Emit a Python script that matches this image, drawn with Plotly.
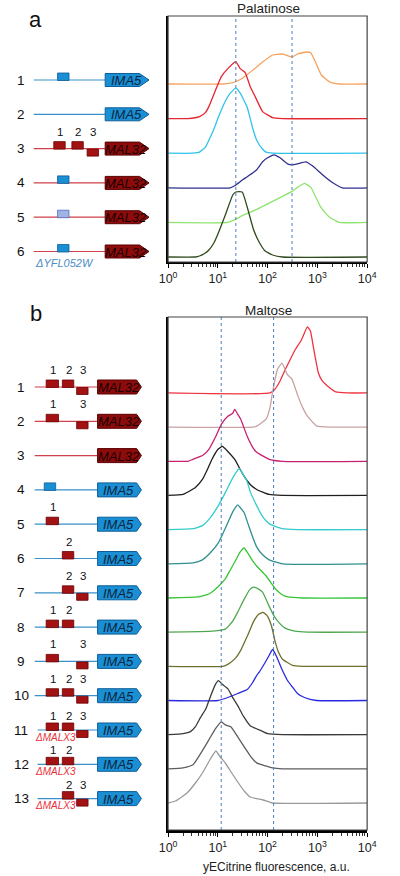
import plotly.graph_objects as go

FONT = "Liberation Sans, Arial, sans-serif"

# ---------------- data: histograms (log10 fluorescence, relative counts) -------------
pal_rows = ["1", "2", "3", "4", "5", "6"]
pal_colors = ["#f6a25e", "#e62530", "#2fc3ea", "#2e2f8e", "#8ee36e", "#2f4a1c"]
pal_logfl = [
    [0, 1.1, 1.34, 1.5, 1.78, 1.9, 2.1, 2.3, 2.49, 2.6, 2.68, 2.8, 2.87, 2.97, 3.08, 3.25, 3.44, 4],
    [0, 0.4, 0.63, 0.75, 0.82, 0.95, 1.07, 1.2, 1.36, 1.45, 1.55, 1.65, 1.75, 1.9, 2.1, 2.3, 4],
    [0, 0.5, 0.63, 0.75, 0.82, 0.92, 1.01, 1.15, 1.25, 1.36, 1.45, 1.59, 1.7, 1.78, 1.9, 1.97, 2.1, 4],
    [0, 1.25, 1.34, 1.5, 1.59, 1.78, 1.9, 2.0, 2.13, 2.25, 2.4, 2.49, 2.6, 2.77, 2.9, 3.06, 3.2, 3.31, 3.5, 4],
    [0, 1.2, 1.35, 1.5, 1.78, 2.1, 2.3, 2.49, 2.6, 2.74, 2.87, 2.95, 3.06, 3.15, 3.25, 3.44, 4],
    [0, 0.55, 0.63, 0.75, 0.82, 0.92, 1.01, 1.15, 1.3, 1.36, 1.49, 1.59, 1.72, 1.84, 1.95, 2.1, 2.3, 4],
]
pal_counts = [
    [0, 0, 2, 6, 17, 22, 29, 30, 27, 30, 31, 32, 31, 21, 9, 2, 0, 0],
    [0, 0, 2, 6, 12, 28, 42, 50, 57, 50, 46, 32, 22, 7, 1, 0, 0],
    [0, 0, 1, 6, 13, 24, 36, 52, 60, 65, 60, 46, 25, 13, 4, 1, 0, 0],
    [0, 0, 2, 8, 11, 18, 26, 30, 33, 30, 24, 23, 24, 26, 22, 15, 9, 5, 0, 0],
    [0, 0, 3, 7, 13, 21, 26, 31, 35, 39, 35, 27, 16, 10, 5, 0, 0],
    [0, 0, 1, 4, 7, 14, 24, 42, 62, 65, 65, 50, 27, 14, 6, 2, 0, 0],
]
pal_markers = [23, 310]

mal_rows = [str(i) for i in range(1, 14)]
mal_colors = ["#ee3340", "#c9a2a2", "#c8206e", "#1e1e1e", "#33cccc", "#2f8f8f", "#35c535",
              "#4fa84f", "#6f6f2e", "#2a2ae0", "#3a3a3a", "#5e5e5e", "#9a9a9a"]
mal_logfl = [
    [0, 2.05, 2.15, 2.25, 2.35, 2.45, 2.55, 2.68, 2.8, 2.86, 2.93, 3.02, 3.1, 3.18, 3.37, 3.6, 4],
    [0, 1.7, 1.78, 1.97, 2.05, 2.1, 2.2, 2.29, 2.39, 2.45, 2.49, 2.61, 2.7, 2.8, 2.99, 3.3, 4],
    [0, 0.4, 0.5, 0.7, 0.82, 0.95, 1.07, 1.2, 1.3, 1.34, 1.4, 1.46, 1.59, 1.7, 1.78, 2.03, 2.3, 4],
    [0, 0.3, 0.38, 0.55, 0.69, 0.8, 0.88, 1.0, 1.09, 1.2, 1.34, 1.45, 1.53, 1.65, 1.78, 2.03, 2.3, 4],
    [0, 0.5, 0.69, 0.85, 1.01, 1.15, 1.26, 1.35, 1.43, 1.5, 1.59, 1.65, 1.78, 1.9, 2.03, 2.29, 2.6, 4],
    [0, 0.5, 0.69, 0.85, 1.01, 1.1, 1.2, 1.3, 1.4, 1.47, 1.53, 1.62, 1.72, 1.78, 1.9, 2.03, 2.3, 4],
    [0, 0.6, 0.82, 1.0, 1.15, 1.25, 1.34, 1.45, 1.53, 1.6, 1.7, 1.78, 1.97, 2.1, 2.16, 2.3, 2.41, 2.7, 4],
    [0, 0.9, 1.15, 1.3, 1.4, 1.53, 1.65, 1.72, 1.82, 1.9, 2.03, 2.12, 2.22, 2.35, 2.55, 2.8, 4],
    [0, 1.1, 1.2, 1.35, 1.46, 1.59, 1.72, 1.82, 1.91, 2.0, 2.08, 2.15, 2.22, 2.3, 2.5, 2.7, 4],
    [0, 1.0, 1.2, 1.4, 1.59, 1.7, 1.78, 1.84, 1.95, 2.03, 2.1, 2.18, 2.29, 2.4, 2.49, 2.6, 2.74, 2.98, 4],
    [0, 0.3, 0.45, 0.55, 0.65, 0.76, 0.85, 0.95, 1.01, 1.1, 1.2, 1.3, 1.4, 1.52, 1.65, 1.91, 2.0, 2.3, 4],
    [0, 0.3, 0.5, 0.65, 0.82, 0.95, 1.07, 1.15, 1.26, 1.4, 1.53, 1.65, 1.78, 2.1, 2.3, 4],
    [0, 0.15, 0.38, 0.55, 0.69, 0.85, 0.96, 1.05, 1.15, 1.28, 1.4, 1.53, 1.65, 1.91, 2.1, 4],
]
mal_counts = [
    [0, 0, 4, 12, 23, 33, 43, 53, 66, 62, 43, 20, 12, 8, 1, 0, 0],
    [0, 0, 1, 8, 20, 35, 58, 64, 53, 50, 48, 31, 20, 11, 1, 0, 0],
    [0, 0, 2, 6, 12, 24, 37, 45, 48, 52, 47, 42, 25, 14, 9, 2, 0, 0],
    [0, 1, 3, 8, 16, 27, 36, 46, 49, 44, 36, 26, 19, 11, 6, 1, 0, 0],
    [0, 1, 4, 12, 24, 37, 48, 56, 61, 56, 48, 38, 24, 13, 6, 1, 0, 0],
    [0, 1, 4, 11, 21, 30, 41, 52, 59, 55, 51, 38, 24, 17, 9, 4, 0, 0],
    [0, 1, 4, 11, 19, 28, 36, 46, 50, 45, 37, 32, 22, 13, 9, 3, 1, 0, 0],
    [0, 1, 3, 11, 20, 33, 43, 45, 43, 40, 26, 17, 10, 4, 1, 0, 0],
    [0, 0, 2, 8, 16, 30, 45, 52, 54, 50, 40, 25, 14, 7, 1, 0, 0],
    [0, 0, 3, 7, 11, 18, 25, 29, 38, 45, 51, 44, 31, 20, 14, 7, 3, 0, 0],
    [0, 1, 3, 8, 17, 26, 38, 50, 54, 50, 46, 37, 29, 18, 9, 3, 1, 0, 0],
    [0, 1, 4, 15, 29, 40, 47, 44, 42, 32, 22, 13, 6, 1, 0, 0],
    [0, 2, 10, 20, 30, 44, 52, 46, 40, 30, 21, 12, 6, 3, 0, 0],
]
mal_markers = [11.7, 132]

tick_vals = [1, 10, 100, 1000, 10000]
tick_text = ["10<sup>0</sup>", "10<sup>1</sup>", "10<sup>2</sup>", "10<sup>3</sup>", "10<sup>4</sup>"]

# ---------------- data: promoter constructs ----------------
a_genes = ["IMA5", "IMA5", "MAL32", "MAL32", "MAL32", "MAL32"]
a_sites = [["blue"], [], ["1", "2", "3"], ["blue"], ["pale"], ["blue"]]
a_notes = ["", "", "", "", "", "\u0394YFL052W"]
b_genes = ["MAL32"] * 3 + ["IMA5"] * 10
b_sites = [["1", "2", "3"], ["1", "3"], [], ["blue"], ["1"], ["2"], ["2", "3"], ["1", "2"],
           ["1", "3"], ["1", "2", "3"], ["1", "2", "3"], ["1", "2"], ["2", "3"]]
b_notes = [""] * 10 + ["\u0394MALX3"] * 3

# ---------------- geometry / style ----------------
W, H = 400, 876
X0, X1 = 167, 376
A_TOP, A_BOT = 16, 262
B_TOP, B_BOT = 317, 830
A_STEP, B_STEP = 34.6, 34.17

def px(x):
    return x / W

def py(y):
    return 1 - y / H

fig = go.Figure()

def add_panel(logfl, counts, colors, step, xa, ya, markers, ylo, yhi):
    n = len(colors)
    for i, (xs, ys, c) in enumerate(zip(logfl, counts, colors)):
        off = (n - 1 - i) * step
        fig.add_trace(go.Scatter(
            x=[10 ** v for v in xs], y=[off + v for v in ys], mode="lines",
            line=dict(color=c, width=1.3, shape="spline", smoothing=0.4),
            xaxis=xa, yaxis=ya, showlegend=False, hoverinfo="skip"))
    for m in markers:
        fig.add_trace(go.Scatter(
            x=[m, m], y=[ylo, yhi], mode="lines",
            line=dict(color="#4f7cc0", width=1, dash="dot"),
            xaxis=xa, yaxis=ya, showlegend=False, hoverinfo="skip"))

a_ylo, a_yhi = -(A_BOT - 257), 257 - A_TOP
b_ylo, b_yhi = -(B_BOT - 803), 803 - B_TOP
add_panel(pal_logfl, pal_counts, pal_colors, A_STEP, "x", "y", pal_markers, a_ylo, a_yhi)
add_panel(mal_logfl, mal_counts, mal_colors, B_STEP, "x2", "y2", mal_markers, b_ylo, b_yhi)

def xaxis_cfg(anchor, lw):
    return dict(type="log", range=[0, 4], domain=[px(X0), px(X1)], anchor=anchor,
                showline=True, linecolor="black", linewidth=lw, ticks="outside",
                ticklen=4, tickcolor="black", tickvals=tick_vals, ticktext=tick_text,
                tickfont=dict(family=FONT, size=12.5, color="#222"), showgrid=False,
                zeroline=False,
                minor=dict(tickmode="array",
                           tickvals=[k * 10 ** e for e in range(4) for k in range(2, 10)],
                           ticks="outside", ticklen=2.5, tickcolor="#333", showgrid=False))

def yaxis_cfg(anchor, top, bot, lo, hi):
    return dict(range=[lo, hi], domain=[py(bot), py(top)], anchor=anchor,
                showline=True, linecolor="black", linewidth=2, showticklabels=False,
                ticks="", showgrid=False, zeroline=False)

shapes = []
annotations = []

# frames
for top, bot in [(A_TOP, A_BOT), (B_TOP, B_BOT)]:
    shapes.append(dict(type="rect", xref="paper", yref="paper", x0=px(X0), x1=px(X1),
                       y0=py(bot), y1=py(top), line=dict(color="#444", width=1.2),
                       layer="above"))

def ann(text, x, y, size, color="#111", xanchor="center"):
    annotations.append(dict(text=text, x=px(x), y=py(y), xref="paper", yref="paper",
                            showarrow=False, xanchor=xanchor, yanchor="middle",
                            font=dict(family=FONT, size=size, color=color)))

def rect(x0, x1, y0, y1, fill, edge, w=0.8):
    shapes.append(dict(type="rect", xref="paper", yref="paper", x0=px(x0), x1=px(x1),
                       y0=py(y1), y1=py(y0), fillcolor=fill, line=dict(color=edge, width=w)))

GENE_STYLE = {"IMA5": ("#1a8fd3", "#0e5d98", "#0b2540", "#3a90c8"),
              "MAL32": ("#8c0c0c", "#5a0000", "#1c0000", "#d0404a")}

def draw_constructs(genes, sites, notes, y0, step, line_x0, gx0, gxb, gxt, gh, site_x):
    for i, (g, ss, note) in enumerate(zip(genes, sites, notes)):
        y = y0 + i * step
        fill, edge, tcol, lcol = GENE_STYLE[g]
        lx0 = line_x0 + (3 if note and "MALX3" in note else 0)
        shapes.append(dict(type="line", xref="paper", yref="paper", x0=px(lx0), x1=px(gx0),
                           y0=py(y), y1=py(y), line=dict(color=lcol, width=1.2)))
        for s in ss:
            sx0, sx1 = site_x[s]
            if s == "3":
                sy0, sy1 = y + 0.5, y + 7.5
            else:
                sy0, sy1 = y - 7, y + 0.5
            if s in ("1", "2", "3"):
                f, e = "#a31212", "#6a0000"
            elif s == "blue":
                f, e = "#1a8fd3", "#0e5d98"
            else:
                f, e = "#9fb4e4", "#4f6fbf"
            rect(sx0, sx1, sy0, sy1, f, e)
            if s in ("1", "2", "3"):
                dy = 14 if note else 17
                ann(s, (sx0 + sx1) / 2 + 0.5, y - dy, 11.5)
        pts = [(gx0, y - gh / 2), (gxb, y - gh / 2), (gxt, y), (gxb, y + gh / 2), (gx0, y + gh / 2)]
        path = "M " + " L ".join(f"{px(a):.5f},{py(b):.5f}" for a, b in pts) + " Z"
        shapes.append(dict(type="path", xref="paper", yref="paper", path=path, fillcolor=fill,
                           line=dict(color=edge, width=1)))
        ann(f"<i>{g}</i>", (gx0 + gxt) / 2 - 1, y + 0.5, 13, tcol)
        ann(str(i + 1), 13, y, 13.5, "#111")
        if note:
            if "YFL" in note:
                ann(f"<i>{note}</i>", line_x0 - 1, y + 12, 11, "#4a8cc4", xanchor="left")
            else:
                ann(f"<i>{note}</i>", line_x0 - 2, y + 7, 10, "#e8303a", xanchor="left")

draw_constructs(a_genes, a_sites, a_notes, 80, 34.3, 26, 101, 137, 147, 13,
                {"1": (47, 59), "2": (66, 78), "3": (82, 94), "blue": (51, 63), "pale": (51, 63)})
draw_constructs(b_genes, b_sites, b_notes, 387, 34.3, 27, 93, 134, 139, 14,
                {"1": (39, 52), "2": (56, 68), "3": (71, 83), "blue": (37, 49)})

# panel letters and titles
ann("a", 28, 20, 22, "#111")
ann("b", 28, 313, 22, "#111")
ann("Palatinose", 272, 8, 13.5, "#222")
ann("Maltose", 272, 310, 13.5, "#222")
ann("yECitrine fluorescence, a.u.", 281, 867, 12, "#222")

fig.update_layout(
    width=W, height=H, margin=dict(l=0, r=0, t=0, b=0),
    paper_bgcolor="white", plot_bgcolor="white", showlegend=False,
    xaxis=xaxis_cfg("y", 2),
    yaxis=yaxis_cfg("x", A_TOP, A_BOT, a_ylo, a_yhi),
    xaxis2=xaxis_cfg("y2", 3),
    yaxis2=yaxis_cfg("x2", B_TOP, B_BOT, b_ylo, b_yhi),
    shapes=shapes, annotations=annotations,
)

fig.write_html(
    "out.html",
    config={"displayModeBar": False, "staticPlot": True},
    post_script=("document.body.style.margin='0';document.body.style.padding='0';"
                 "document.body.style.overflow='hidden';"
                 "document.documentElement.style.overflow='hidden';"),
)
